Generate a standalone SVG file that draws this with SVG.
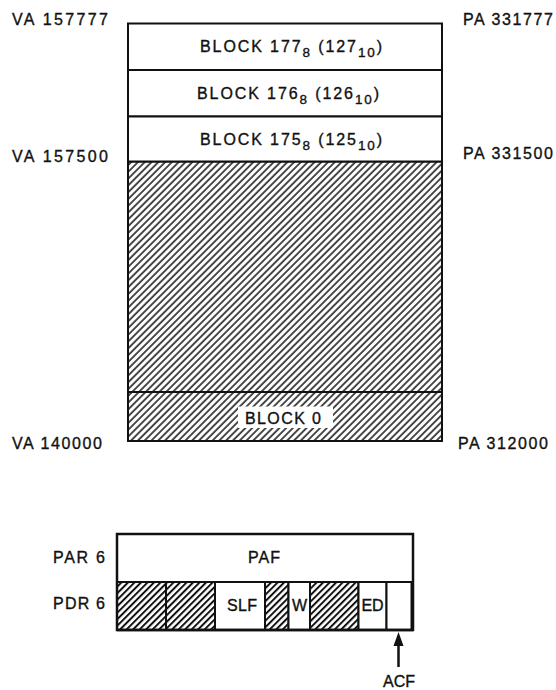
<svg xmlns="http://www.w3.org/2000/svg" width="556" height="690" viewBox="0 0 556 690">
<style>
text{font-family:"Liberation Sans",Arial,sans-serif;font-size:16px;fill:#111;stroke:#111;stroke-width:0.35}
.m{text-anchor:middle}
.blk{letter-spacing:1.9px}
.sub{font-size:13.5px}
.box{fill:#fff;stroke:#111;stroke-width:2}
.hatch{fill:url(#h);stroke:#111;stroke-width:2}
.hatch2{fill:url(#h2);stroke:#111;stroke-width:2}
.ln{stroke:#111;stroke-width:2;fill:none}
</style>
<defs>
<pattern id="h" patternUnits="userSpaceOnUse" width="4.8" height="4.8" patternTransform="rotate(45)">
<rect width="4.8" height="4.8" fill="#fff"/>
<line x1="1" y1="0" x2="1" y2="4.8" stroke="#111" stroke-width="1.5"/>
</pattern>
<pattern id="h2" patternUnits="userSpaceOnUse" width="4.6" height="4.6" patternTransform="rotate(45)">
<rect width="4.6" height="4.6" fill="#fff"/>
<line x1="1" y1="0" x2="1" y2="4.6" stroke="#111" stroke-width="2"/>
</pattern>
</defs>

<g id="labels">
<text x="12" y="25" textLength="96">VA 157777</text>
<text x="12" y="162" textLength="96">VA 157500</text>
<text x="12" y="449" textLength="90">VA 140000</text>
<text x="463" y="25" textLength="90">PA 331777</text>
<text x="463" y="159" textLength="90">PA 331500</text>
<text x="458" y="449" textLength="90">PA 312000</text>
</g>

<g id="memory">
<rect id="hatched-area" class="hatch" x="128" y="161.5" width="314" height="279.5"/>
<line class="ln" x1="128" y1="392" x2="442" y2="392"/>
<g id="block177">
<rect class="box" x="128" y="23.5" width="314" height="46.5"/>
<text class="m blk" x="292" y="52">BLOCK 177<tspan class="sub" dy="5">8</tspan><tspan dy="-5"> (127</tspan><tspan class="sub" dy="5">10</tspan><tspan dy="-5">)</tspan></text>
</g>
<g id="block176">
<rect class="box" x="128" y="70" width="314" height="46.5"/>
<text class="m blk" x="289" y="99">BLOCK 176<tspan class="sub" dy="5">8</tspan><tspan dy="-5"> (126</tspan><tspan class="sub" dy="5">10</tspan><tspan dy="-5">)</tspan></text>
</g>
<g id="block175">
<rect class="box" x="128" y="116.5" width="314" height="45"/>
<text class="m blk" x="292" y="145">BLOCK 175<tspan class="sub" dy="5">8</tspan><tspan dy="-5"> (125</tspan><tspan class="sub" dy="5">10</tspan><tspan dy="-5">)</tspan></text>
</g>
<g id="block0">
<rect x="238" y="406.5" width="95" height="21.5" fill="#fff"/>
<text x="245" y="424" textLength="76">BLOCK 0</text>
</g>
</g>

<g id="registers">
<text x="53" y="563" textLength="52">PAR 6</text>
<text x="53" y="609" textLength="52">PDR 6</text>
<g id="par6">
<rect class="box" x="117" y="534" width="296" height="48" stroke-width="2.5"/>
<text x="248" y="563" textLength="32">PAF</text>
</g>
<g id="pdr6">
<rect class="hatch2" x="117" y="582" width="49" height="48"/>
<rect class="hatch2" x="166" y="582" width="49" height="48"/>
<rect class="box" x="215" y="582" width="50" height="48"/>
<text x="227" y="611" textLength="30">SLF</text>
<rect class="hatch2" x="265" y="582" width="23.5" height="48"/>
<rect class="box" x="288.5" y="582" width="21.5" height="48"/>
<text class="m" x="299.5" y="611">W</text>
<rect class="hatch2" x="310" y="582" width="48.5" height="48"/>
<rect class="box" x="358.5" y="582" width="28" height="48"/>
<text class="m" x="372.5" y="611">ED</text>
<rect class="box" x="386.5" y="582" width="25" height="48"/>
<line x1="117" y1="630" x2="413" y2="630" stroke="#111" stroke-width="2.5"/>
<rect x="117" y="534" width="296" height="96" fill="none" stroke="#111" stroke-width="2.5"/>
</g>
<g id="acf">
<text x="383" y="687" textLength="32">ACF</text>
</g>
</g>

<g id="connectors">
<line x1="398.5" y1="667" x2="398.5" y2="642" stroke="#111" stroke-width="2.5"/>
<path d="M398.5,632 L403.5,646 L393.5,646 Z" fill="#111"/>
</g>
</svg>
